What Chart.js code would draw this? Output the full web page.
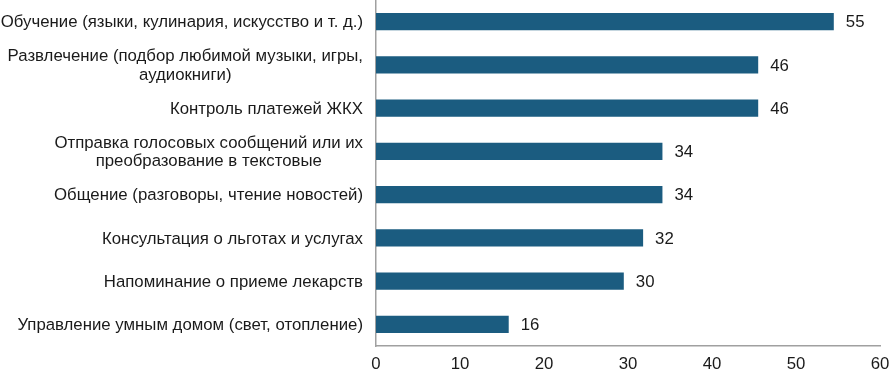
<!DOCTYPE html>
<html lang="ru">
<head>
  <meta charset="UTF-8">
  <title>Использование голосовых помощников</title>
  <script src="https://cdn.jsdelivr.net/npm/chart.js"></script>
  <style>
    html, body {
      margin: 0;
      padding: 0;
      background: #ffffff;
    }
    #chartContainer {
      width: 889px;
      height: 371px;
    }
  </style>
</head>
<body>

  <div id="chartContainer">
    <canvas id="usageChart"></canvas>
  </div>

  <script>
    // Categories (multi-line ones are split into arrays)
    const categories = [
      'Обучение (языки, кулинария, искусство и т. д.)',
      ['Развлечение (подбор любимой музыки, игры,', 'аудиокниги)'],
      'Контроль платежей ЖКХ',
      ['Отправка голосовых сообщений или их', 'преобразование в текстовые'],
      'Общение (разговоры, чтение новостей)',
      'Консультация о льготах и услугах',
      'Напоминание о приеме лекарств',
      'Управление умным домом (свет, отопление)'
    ];

    // Share of respondents, % (labels show rounded values)
    const shares = [54.5, 45.5, 45.5, 34.1, 34.1, 31.8, 29.5, 15.8];

    // X axis ticks
    const xTicks = [0, 10, 20, 30, 40, 50, 60];

    const textColor = '#1a1a1a';
    const fontFamily = '"Liberation Sans", Arial, sans-serif';
    const fontSize = 16.8;
    const lineHeight = 18.5;

    // category labels: right edge lined up, lines of a wrapped label centred on each other
    const categoryLabels = {
      id: 'categoryLabels',
      afterDraw(chart) {
        const ctx = chart.ctx;
        const yScale = chart.scales.y;
        const rightEdge = yScale.right - 13;
        ctx.save();
        ctx.font = fontSize + 'px ' + fontFamily;
        ctx.fillStyle = textColor;
        ctx.textAlign = 'center';
        ctx.textBaseline = 'middle';
        categories.forEach((label, i) => {
          const lines = Array.isArray(label) ? label : [label];
          const blockWidth = Math.max(...lines.map(l => ctx.measureText(l).width));
          const cx = rightEdge - blockWidth / 2;
          const cy = yScale.getPixelForTick(i) + 1;
          const top = cy - (lines.length - 1) * lineHeight / 2;
          lines.forEach((line, j) => {
            ctx.fillText(line, cx, top + j * lineHeight);
          });
        });
        ctx.restore();
      }
    };

    // draws the value label to the right of every bar
    const valueLabels = {
      id: 'valueLabels',
      afterDatasetsDraw(chart) {
        const ctx = chart.ctx;
        const meta = chart.getDatasetMeta(0);
        ctx.save();
        ctx.font = fontSize + 'px ' + fontFamily;
        ctx.fillStyle = textColor;
        ctx.textAlign = 'left';
        ctx.textBaseline = 'middle';
        meta.data.forEach((bar, i) => {
          ctx.fillText(Math.round(shares[i]), bar.x + 12, bar.y + 1);
        });
        ctx.restore();
      }
    };

    const ctx = document.getElementById('usageChart').getContext('2d');
    const usageChart = new Chart(ctx, {
      type: 'bar',
      data: {
        labels: categories,
        datasets: [{
          data: shares,
          backgroundColor: '#1b5c80',
          barPercentage: 0.8,
          categoryPercentage: 0.5
        }]
      },
      options: {
        indexAxis: 'y',
        responsive: true,
        maintainAspectRatio: false,
        animation: false,
        layout: {
          padding: { top: 0, right: 9, bottom: 0, left: 0 }
        },
        plugins: {
          legend: { display: false },
          tooltip: { enabled: false }
        },
        scales: {
          x: {
            min: xTicks[0],
            max: xTicks[xTicks.length - 1],
            afterBuildTicks: axis => {
              axis.ticks = xTicks.map(v => ({ value: v }));
            },
            afterFit: axis => {
              axis.height = 25;
              axis.paddingLeft = 0;
              axis.paddingRight = 0;
            },
            grid: { display: false, drawTicks: false },
            border: { display: true, color: '#a0a0a0', width: 1.5 },
            ticks: {
              color: textColor,
              padding: 8,
              font: { family: fontFamily, size: fontSize }
            }
          },
          y: {
            grid: { display: false, drawTicks: false },
            border: { display: true, color: '#a0a0a0', width: 1.5 },
            afterFit: axis => {
              axis.width = 376;
              axis.paddingTop = 0;
              axis.paddingBottom = 0;
            },
            ticks: {
              display: false,
              autoSkip: false
            }
          }
        }
      },
      plugins: [valueLabels, categoryLabels]
    });
  </script>

</body>
</html>
